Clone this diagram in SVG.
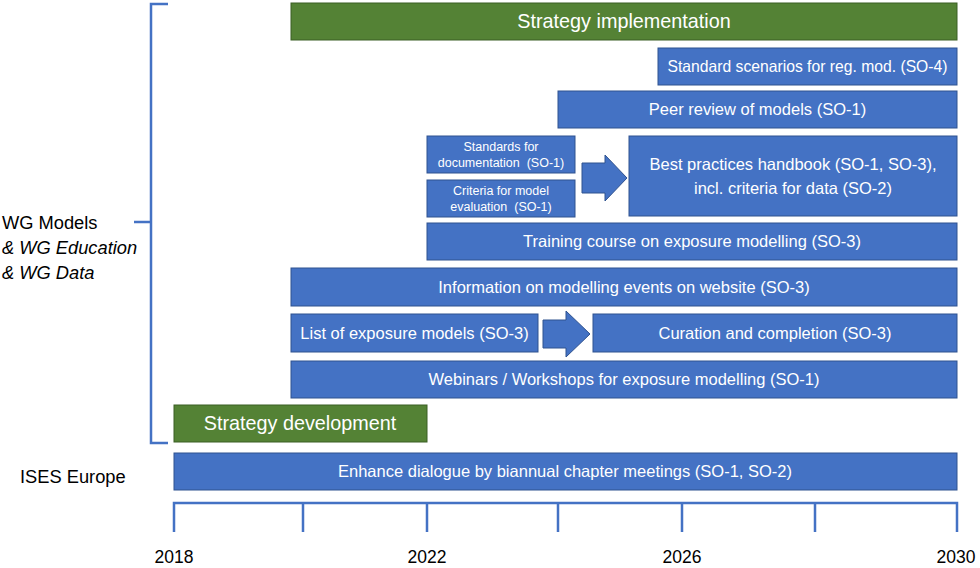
<svg xmlns="http://www.w3.org/2000/svg" width="980" height="568" viewBox="0 0 980 568">
<style>
  .b{fill:#4472C4;stroke:#2F528F;stroke-width:1}
  .g{fill:#548235;stroke:#3B5E25;stroke-width:1}
  .t{font-family:"Liberation Sans",Arial,sans-serif;fill:#fff;text-anchor:middle;font-size:16.5px}
  .s{font-family:"Liberation Sans",Arial,sans-serif;fill:#fff;text-anchor:middle;font-size:12.5px}
  .h{font-family:"Liberation Sans",Arial,sans-serif;fill:#fff;text-anchor:middle;font-size:19.8px}
  .k{font-family:"Liberation Sans",Arial,sans-serif;fill:#000;font-size:18.3px}
  .y{font-family:"Liberation Sans",Arial,sans-serif;fill:#000;font-size:17.5px;text-anchor:middle}
  .ln{fill:none;stroke:#4472C4;stroke-width:2.5}
</style>
<rect width="980" height="568" fill="#fff"/>
<g id="bracket">
  <path class="ln" d="M168,4 H151 V443 H168 M134,222 H151"/>
</g>
<g id="labels">
  <text class="k" x="2" y="229">WG Models</text>
  <text class="k" x="2" y="254" font-style="italic">&amp; WG Education</text>
  <text class="k" x="2" y="279" font-style="italic">&amp; WG Data</text>
  <text class="k" x="20" y="483">ISES Europe</text>
</g>
<g id="n-impl"><rect class="g" x="291" y="3" width="666" height="37"/><text class="h" x="624" y="28">Strategy implementation</text></g>
<g id="n-scen"><rect class="b" x="658" y="48" width="299" height="37"/><text class="t" x="807.5" y="72" textLength="280" lengthAdjust="spacingAndGlyphs">Standard scenarios for reg. mod. (SO-4)</text></g>
<g id="n-peer"><rect class="b" x="558" y="91" width="399" height="37"/><text class="t" x="757.5" y="115">Peer review of models (SO-1)</text></g>
<g id="n-stddoc"><rect class="b" x="427" y="136" width="148" height="37"/><text class="s" x="501" y="151">Standards for</text><text class="s" x="501" y="167">documentation&#160; (SO-1)</text></g>
<g id="n-crit"><rect class="b" x="427" y="180" width="148" height="37"/><text class="s" x="501" y="195">Criteria for model</text><text class="s" x="501" y="211">evaluation&#160; (SO-1)</text></g>
<g id="n-best"><rect class="b" x="629" y="136" width="328" height="80"/><text class="t" x="793" y="170">Best practices handbook (SO-1, SO-3),</text><text class="t" x="793" y="194">incl. criteria for data (SO-2)</text></g>
<g id="n-train"><rect class="b" x="427" y="223" width="530" height="37"/><text class="t" x="692" y="247">Training course on exposure modelling (SO-3)</text></g>
<g id="n-info"><rect class="b" x="291" y="268" width="666" height="38"/><text class="t" x="624" y="293">Information on modelling events on website (SO-3)</text></g>
<g id="n-list"><rect class="b" x="291" y="314" width="247" height="38"/><text class="t" x="414.5" y="339">List of exposure models (SO-3)</text></g>
<g id="n-cur"><rect class="b" x="593" y="314" width="364" height="38"/><text class="t" x="775" y="339">Curation and completion (SO-3)</text></g>
<g id="n-web"><rect class="b" x="291" y="361" width="666" height="37"/><text class="t" x="624" y="385">Webinars / Workshops for exposure modelling (SO-1)</text></g>
<g id="n-dev"><rect class="g" x="174" y="405" width="253" height="37"/><text class="h" x="300" y="430">Strategy development</text></g>
<g id="n-enh"><rect class="b" x="174" y="453" width="783" height="37"/><text class="t" x="565" y="477">Enhance dialogue by biannual chapter meetings (SO-1, SO-2)</text></g>
<g id="connectors">
  <polygon class="b" points="582,163 605,163 605,155 627,178 605,201 605,193 582,193"/>
  <polygon class="b" points="543,320 566,320 566,311 590,334 566,357 566,348 543,348"/>
</g>
<g id="timeline">
  <path class="ln" d="M174,532 V503 H957 V532 M303,503 V532 M427,503 V532 M558,503 V532 M682,503 V532 M815,503 V532"/>
  <text class="y" x="174" y="563">2018</text>
  <text class="y" x="427" y="563">2022</text>
  <text class="y" x="682" y="563">2026</text>
  <text class="y" x="956" y="563">2030</text>
</g>
</svg>
